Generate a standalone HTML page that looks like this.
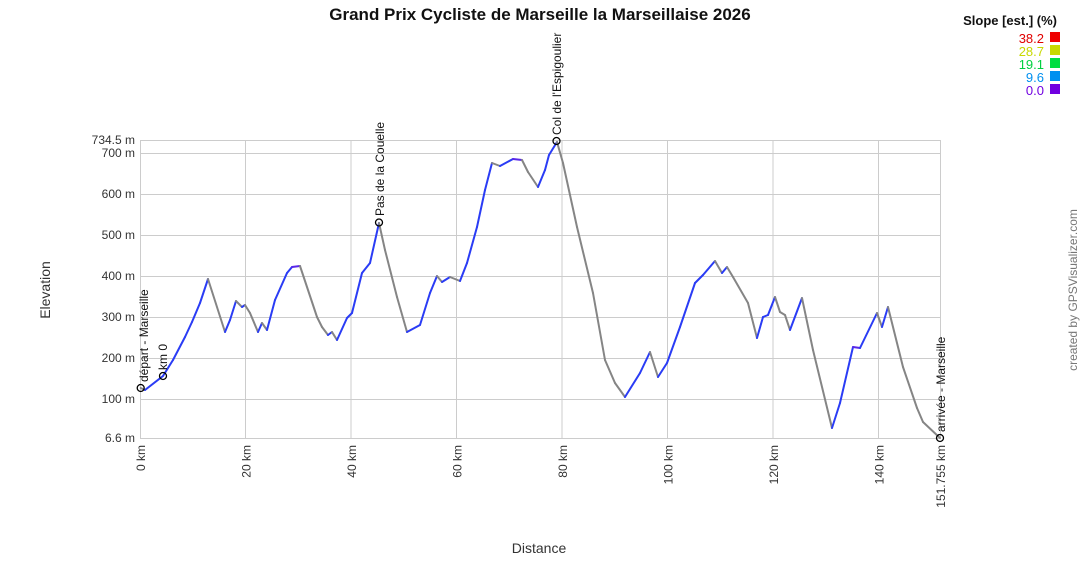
<!DOCTYPE html>
<html><head><meta charset="utf-8"><style>
body{margin:0;background:#fff;}
svg{display:block;font-family:"Liberation Sans",Arial,sans-serif;}
</style></head><body>
<svg id="s" width="1080" height="580" xmlns="http://www.w3.org/2000/svg">
<text x="540" y="20" text-anchor="middle" font-size="17" font-weight="bold" fill="#111">Grand Prix Cycliste de Marseille la Marseillaise 2026</text>
<g stroke="#cccccc" stroke-width="1" fill="none">
<rect x="140.5" y="140.5" width="800" height="298"/>
<line x1="140" y1="153.5" x2="940" y2="153.5"/>
<line x1="140" y1="194.5" x2="940" y2="194.5"/>
<line x1="140" y1="235.5" x2="940" y2="235.5"/>
<line x1="140" y1="276.5" x2="940" y2="276.5"/>
<line x1="140" y1="317.5" x2="940" y2="317.5"/>
<line x1="140" y1="358.5" x2="940" y2="358.5"/>
<line x1="140" y1="399.5" x2="940" y2="399.5"/>
<line x1="245.5" y1="140" x2="245.5" y2="438"/>
<line x1="351" y1="140" x2="351" y2="438"/>
<line x1="456.5" y1="140" x2="456.5" y2="438"/>
<line x1="562" y1="140" x2="562" y2="438"/>
<line x1="667.5" y1="140" x2="667.5" y2="438"/>
<line x1="773" y1="140" x2="773" y2="438"/>
<line x1="878.5" y1="140" x2="878.5" y2="438"/>
</g>
<g font-size="12" fill="#333" text-anchor="end">
<text x="135" y="144">734.5 m</text>
<text x="135" y="157">700 m</text>
<text x="135" y="198">600 m</text>
<text x="135" y="239">500 m</text>
<text x="135" y="280">400 m</text>
<text x="135" y="321">300 m</text>
<text x="135" y="362">200 m</text>
<text x="135" y="403">100 m</text>
<text x="135" y="442">6.6 m</text>
<text transform="translate(145,445) rotate(-90)">0 km</text>
<text transform="translate(250.5,445) rotate(-90)">20 km</text>
<text transform="translate(356,445) rotate(-90)">40 km</text>
<text transform="translate(461.5,445) rotate(-90)">60 km</text>
<text transform="translate(567,445) rotate(-90)">80 km</text>
<text transform="translate(672.5,445) rotate(-90)">100 km</text>
<text transform="translate(778,445) rotate(-90)">120 km</text>
<text transform="translate(883.5,445) rotate(-90)">140 km</text>
<text transform="translate(945,445) rotate(-90)">151.755 km</text>
</g>
<text x="539" y="553" text-anchor="middle" font-size="14" fill="#333">Distance</text>
<text transform="translate(50,290) rotate(-90)" text-anchor="middle" font-size="14" fill="#333">Elevation</text>
<text transform="translate(1077,290) rotate(-90)" text-anchor="middle" font-size="12" fill="#777">created by GPSVisualizer.com</text>
<g id="prof" fill="none" stroke-width="2" stroke-linejoin="round" stroke-linecap="round"></g>
<g fill="none" stroke="#000" stroke-width="1.3">
<circle cx="140.7" cy="388" r="3.5"/><circle cx="163" cy="376" r="3.5"/>
<circle cx="379" cy="222.5" r="3.5"/><circle cx="556.5" cy="141" r="3.5"/><circle cx="940" cy="438" r="3.5"/>
</g>
<g font-size="12" fill="#111">
<text transform="translate(148,382) rotate(-90)">départ - Marseille</text>
<text transform="translate(167,370) rotate(-90)">km 0</text>
<text transform="translate(384,216) rotate(-90)">Pas de la Couelle</text>
<text transform="translate(561,135) rotate(-90)">Col de l'Espigoulier</text>
<text transform="translate(945,432) rotate(-90)">arrivée - Marseille</text>
</g>
<text x="1057" y="25" text-anchor="end" font-size="13" font-weight="bold" fill="#111">Slope [est.] (%)</text>
<g font-size="13" text-anchor="end">
<text x="1044" y="43" fill="#e00000">38.2</text>
<text x="1044" y="56" fill="#c8d800">28.7</text>
<text x="1044" y="69" fill="#00d040">19.1</text>
<text x="1044" y="82" fill="#0090f0">9.6</text>
<text x="1044" y="95" fill="#7000e0">0.0</text>
</g>
<rect x="1050" y="32" width="10" height="10" fill="#ee0000"/>
<rect x="1050" y="45" width="10" height="10" fill="#c8d800"/>
<rect x="1050" y="58" width="10" height="10" fill="#00dd40"/>
<rect x="1050" y="71" width="10" height="10" fill="#0090f0"/>
<rect x="1050" y="84" width="10" height="10" fill="#7000e0"/>
</svg>
<script>
var p=[[140.7,388],[145,390],[163,376],[173,360],[185,337],[192,322],[200,303],[208,279],[225,332],[230,320],[236,301],[242,307],[245,305],[250,313],[258,332],[262,323],[267,330],[275,300],[287,273],[292,267],[300,266],[317,317],[322,327],[328,335],[332,332],[337,340],[347,318],[352,313],[362,273],[370,263],[379,223],[385,250],[397,297],[407,332],[420,325],[430,293],[437,276],[442,282],[450,277],[460,281],[467,263],[477,227],[485,190],[492,163],[500,166],[513,159],[522,160],[528,172],[538,187],[545,170],[549,155],[557,142],[563,163],[577,227],[593,293],[605,360],[615,383],[625,397],[640,373],[650,352],[658,377],[667,363],[680,327],[695,283],[703,275],[715,261],[722,273],[727,267],[733,277],[748,303],[757,338],[763,317],[768,315],[775,297],[780,312],[785,315],[790,330],[802,298],[813,350],[832,428],[840,403],[853,347],[860,348],[877,313],[882,327],[888,307],[903,367],[917,408],[923,422],[940,438]];
var g=document.getElementById('prof'),h='';
for(var i=1;i<p.length;i++){var a=p[i-1],b=p[i];var c=b[1]<a[1]-1?'#2a3cf5':(b[1]>a[1]+1?'#858585':'#5a28e8');
h+='<line x1="'+a[0]+'" y1="'+a[1]+'" x2="'+b[0]+'" y2="'+b[1]+'" stroke="'+c+'"/>';}
g.innerHTML=h;
</script>
</body></html>
